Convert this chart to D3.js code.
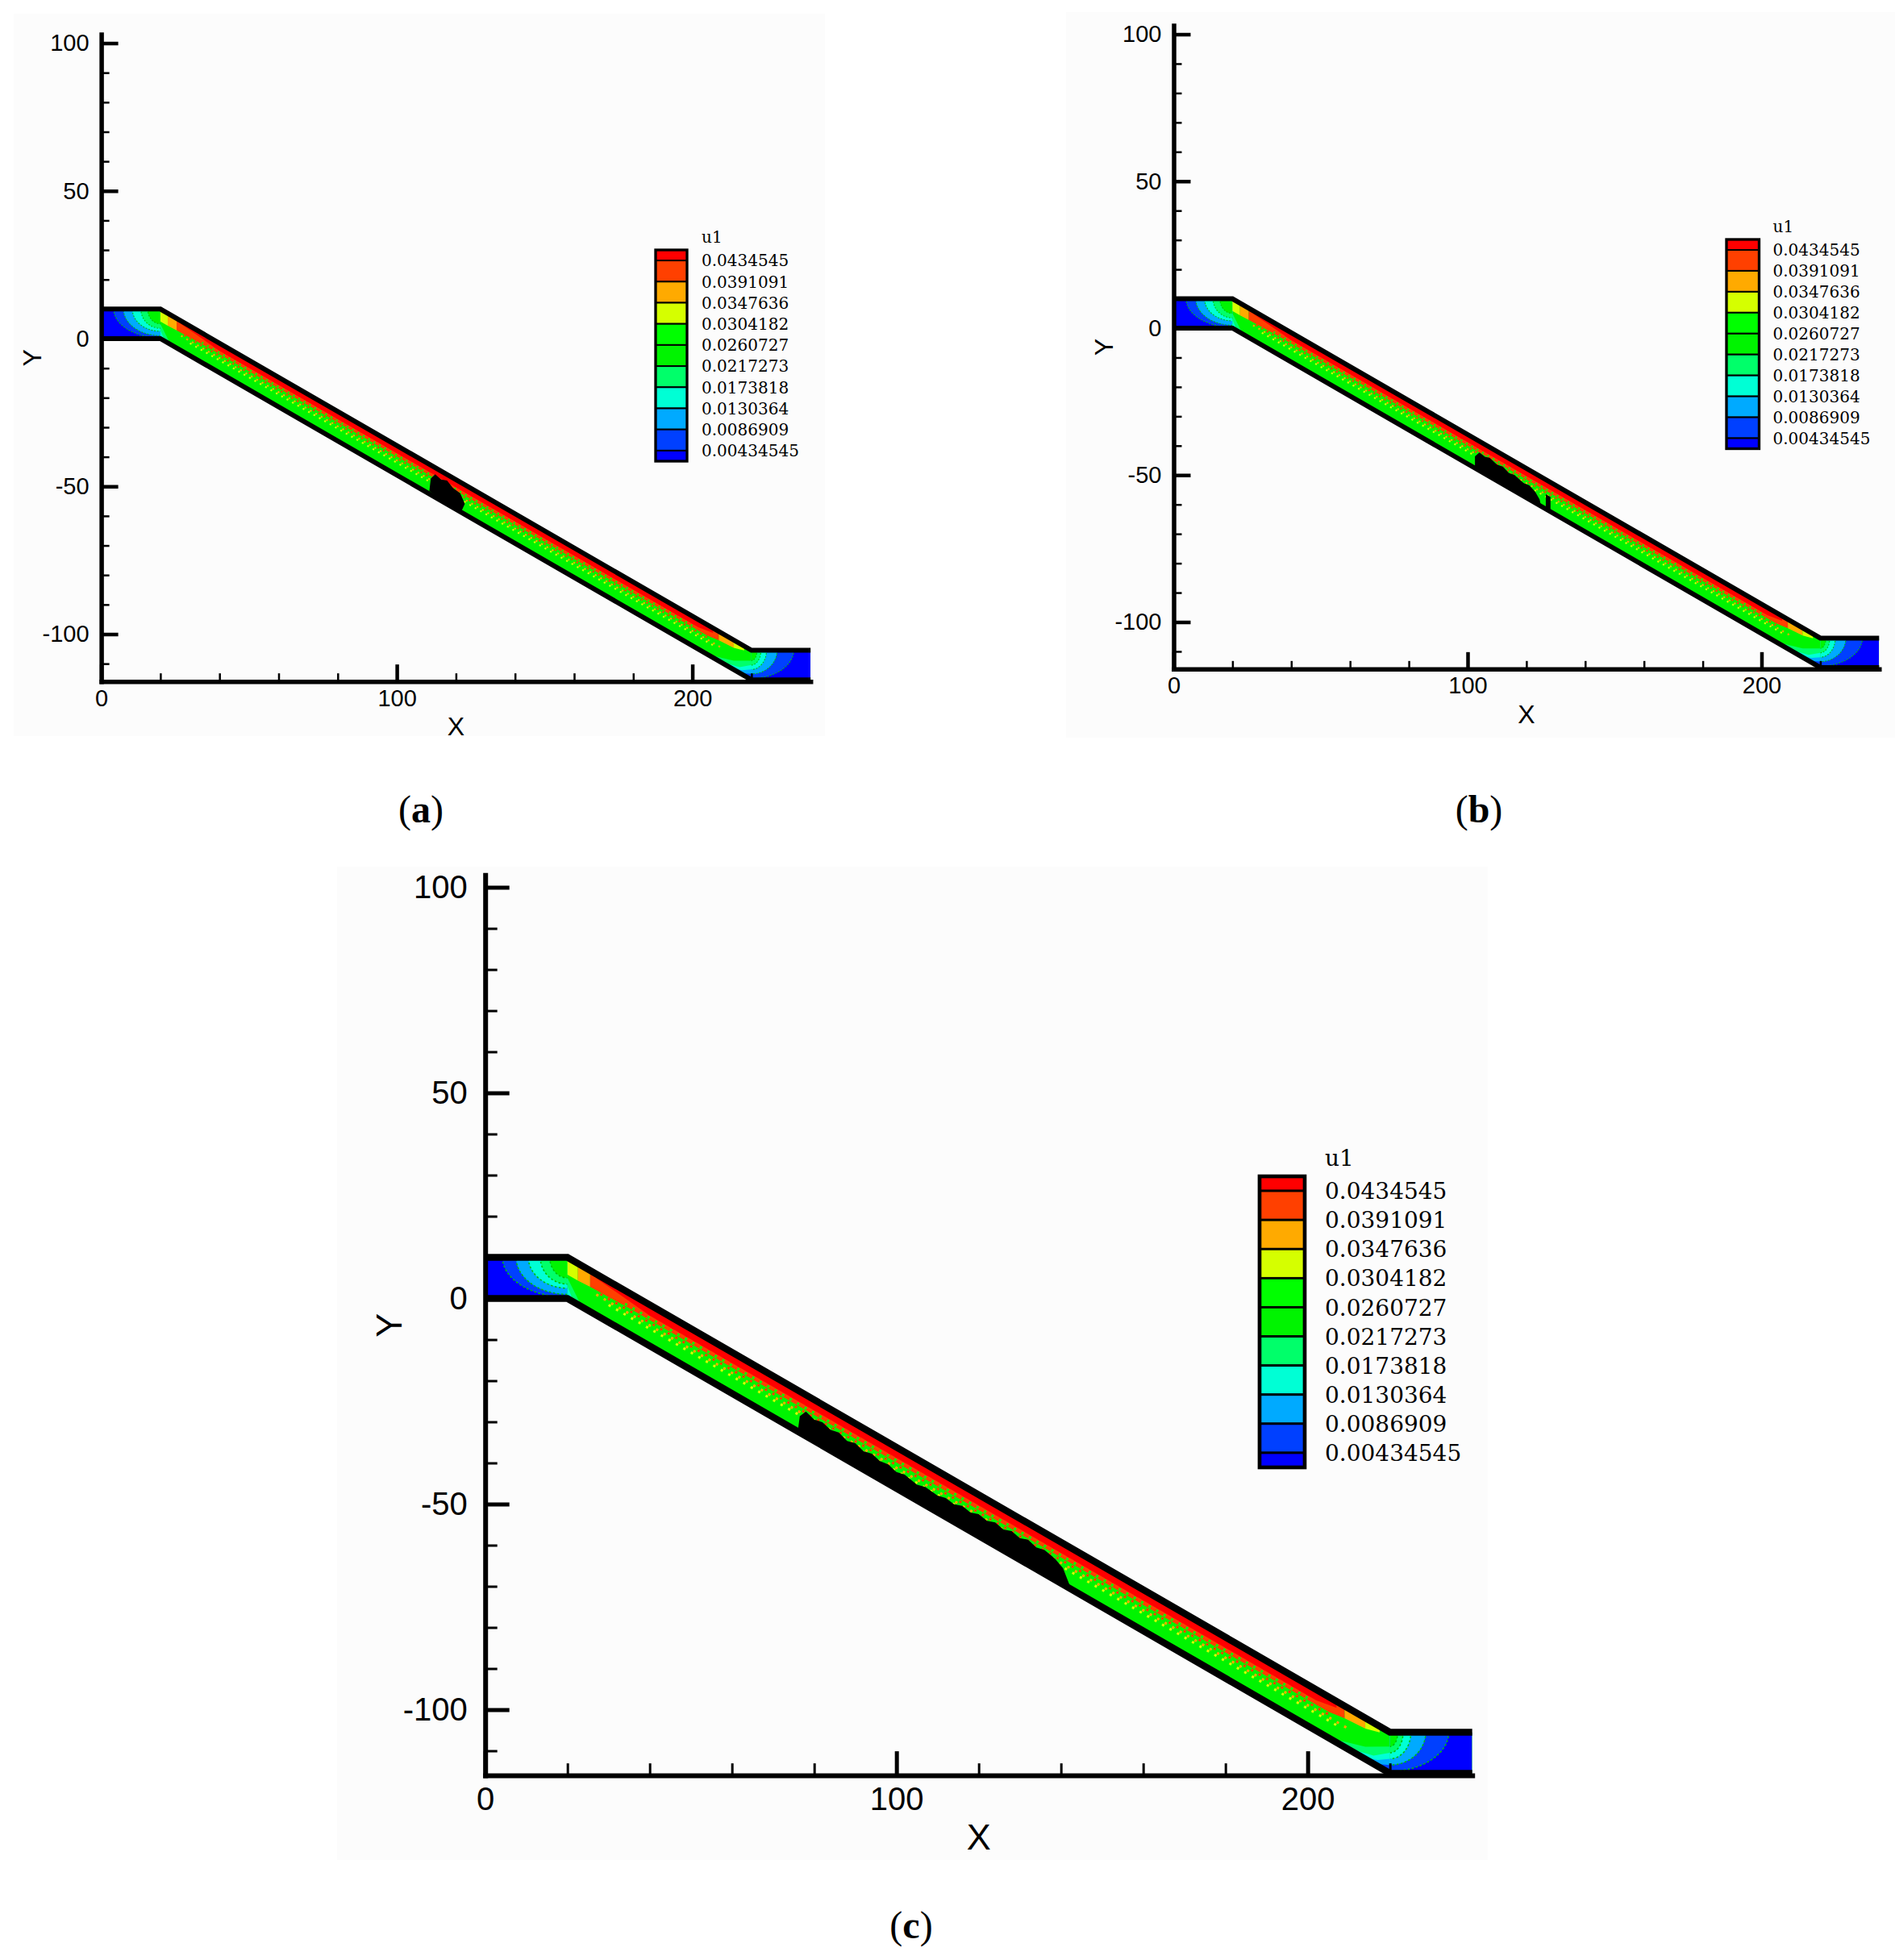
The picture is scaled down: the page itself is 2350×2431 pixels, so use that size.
<!DOCTYPE html>
<meta charset="utf-8">
<title>u1 contours in the inclined channel</title>
<style>
    body { margin: 0; background: #fff; }
    .tick text { font-family: "Liberation Sans", Arial, sans-serif; fill: #000; }
    .legend text { font-family: "DejaVu Serif", serif; fill: #000; }
</style>

<script src="https://d3js.org/d3.v7.min.js"></script>

<svg id="fig" width="2350" height="2431"></svg>

<script>
    // contour levels (legend) and band colours, top to bottom
    const levels = ["0.0434545", "0.0391091", "0.0347636", "0.0304182", "0.0260727",
        "0.0217273", "0.0173818", "0.0130364", "0.0086909", "0.00434545"];
    const bandColors = ["#ff0000", "#ff4000", "#ffaa00", "#d5ff00", "#00ff00", "#00f400",
        "#00ff6a", "#00ffd5", "#00aaff", "#0040ff", "#0000ff"];

    // axes
    const xDomain = [0, 240];
    const yDomain = [-116, 103];
    const xMajor = [0, 100, 200];
    const xMinor = [20, 40, 60, 80, 120, 140, 160, 180, 220];
    const yMajor = [-100, -50, 0, 50, 100];
    const yMinor = [-110, -90, -80, -70, -60, -40, -30, -20, -10, 10, 20, 30, 40, 60, 70, 80, 90];

    // channel walls (X, Y)
    const upperWall = [[0, 10], [20, 10], [220, -105.47], [240, -105.47]];
    const lowerWall = [[0, 0], [20, 0], [220, -115.47], [240, -115.47]];

    // contour arcs in the inlet and outlet, outer to inner (data units)
    const inletRx = [15.8, 12.5, 9.5, 6.6, 4.3];
    const inletRy = [9.7, 9.0, 7.5, 6.5, 5.0];
    const outletRx = [14.3, 8.7, 5.1, 3.2, 1.9];
    const outletRy = [9.5, 8.0, 6.5, 5.0, 3.5];
    const arcBands = [9, 8, 7, 6, 5];

    // bands in the channel: X along the channel, f = fraction of height above the lower wall
    const channelBands = [
        {band: 6, lo: [[20, 0], [23.5, 0]], hi: [[20, 0.5], [23.5, 0]]},
        {band: 7, lo: [[20, 0], [21.5, 0]], hi: [[20, 0.3], [21.5, 0]]},
        {band: 3, lo: [[20, 0.58], [22.5, 0.58]], hi: [[20, 1], [22.5, 1]]},
        {band: 2, lo: [[22.5, 0.58], [25.5, 0.6]], hi: [[22.5, 1], [25.5, 1]]},
        {band: 1, lo: [[25.5, 0.6], [35, 0.63], [205, 0.63], [209, 0.7]], hi: [[25.5, 1], [209, 1]]},
        {band: 0, lo: [[27, 0.9], [40, 0.74], [202, 0.74], [207, 0.84]], hi: [[27, 1], [207, 1]]},
        {band: 2, lo: [[209, 0.7], [214, 0.74]], hi: [[209, 1], [214, 1]]},
        {band: 3, lo: [[214, 0.74], [217.5, 0.85]], hi: [[214, 1], [217.5, 1]]},
        {band: 6, lo: [[205, 0], [220, 0]], hi: [[205, 0], [214, 0.3], [220, 0.65]]},
        {band: 7, lo: [[209, 0], [220, 0]], hi: [[209, 0], [216, 0.2], [220, 0.5]]},
        {band: 8, lo: [[213, 0], [220, 0]], hi: [[213, 0], [217, 0.15], [220, 0.35]]},
        {band: 9, lo: [[216, 0], [220, 0]], hi: [[216, 0], [220, 0.2]]}
    ];

    // dotted staircase cells between green and red
    const dotLines = [
        {band: 1, f: 0.57, from: 28, to: 206},
        {band: 2, f: 0.5, from: 27, to: 210},
        {band: 3, f: 0.42, from: 30, to: 208},
        {band: 4, f: 0.68, from: 34, to: 200}
    ];

    // black patches (X, f)
    const blobA = [[111, 0.1], [111.5, 0.55], [113, 0.78], [115, 0.72], [117, 0.8], [119, 0.66],
        [121.5, 0.62], [123, 0.35], [122, 0.08], [117, 0.04], [114, 0.05]];
    const blobB = [[102.5, 0], [102.5, 0.4], [104, 0.62], [106, 0.58], [107.5, 0.64], [110, 0.55],
        [112, 0.6], [114, 0.5], [116, 0.54], [119, 0.45], [121, 0.48], [123, 0.38], [124.5, 0.2], [125, 0]];
    const notchB = [[126.6, 0], [126.6, 0.5], [128.2, 0.5], [128.2, 0]];
    const blobC = [[76, 0], [76.5, 0.4], [78, 0.6], [80, 0.52], [82, 0.57], [84, 0.5], [86, 0.55],
        [88, 0.46], [90, 0.52], [92, 0.44], [94, 0.5], [96, 0.43], [98, 0.47], [100, 0.4], [102, 0.45],
        [105, 0.38], [107, 0.44], [110, 0.4], [112, 0.46], [114, 0.42], [116, 0.5], [118, 0.45],
        [120, 0.53], [122, 0.48], [124, 0.56], [126, 0.5], [128, 0.58], [130, 0.52], [132, 0.6],
        [134, 0.53], [136, 0.58], [138.5, 0.52], [140.5, 0.4], [142.5, 0]];

    const panels = [
        {id: "a", x0: 125.6, y0: 420, k: 3.665, bg: [17, 17, 1006, 896],
            axisW: 5.5, majLen: 21, majW: 4.5, minLen: 10, minW: 2.5,
            tickFont: 29, padX: 10, padY: 15, titleFont: 32, xTitleDy: 67, yTitleDx: 86, wallW: 6,
            legend: {x: 813, y: 310, w: 39, h: 262, font: 20, gap: 18},
            caption: {x: 522, y: 1020, label: "a"}, blobs: [blobA]},
        {id: "b", x0: 1455.5, y0: 407, k: 3.645, bg: [1322, 15, 1028, 900],
            axisW: 5.5, majLen: 21, majW: 4.5, minLen: 10, minW: 2.5,
            tickFont: 29, padX: 10, padY: 15, titleFont: 32, xTitleDy: 67, yTitleDx: 86, wallW: 6,
            legend: {x: 2141, y: 297, w: 40.5, h: 259.5, font: 20, gap: 17},
            caption: {x: 1834, y: 1020, label: "b"}, blobs: [blobB, notchB]},
        {id: "c", x0: 601.7, y0: 1610.5, k: 5.1, bg: [418, 1075, 1427, 1232],
            axisW: 6, majLen: 30, majW: 5, minLen: 15, minW: 3,
            tickFont: 40, padX: 15, padY: 22, titleFont: 45, xTitleDy: 92, yTitleDx: 119, wallW: 8.5,
            legend: {x: 1562, y: 1459, w: 56, h: 361, font: 28, gap: 25},
            caption: {x: 1130, y: 2404, label: "c"}, blobs: [blobC]}
    ];

    const svg = d3.select("#fig");

    const yLow = d3.scaleLinear().domain(lowerWall.map(d => d[0])).range(lowerWall.map(d => d[1]));
    const chanH = upperWall[0][1] - lowerWall[0][1];
    const bends = lowerWall.slice(1, -1).map(d => d[0]);

    // add the wall corners so strips follow the bend
    function densify(pts) {
        const out = [];
        pts.forEach(function (p, i) {
            if (i > 0) {
                const q = pts[i - 1];
                const cross = bends.filter(b => (q[0] - b) * (p[0] - b) < 0)
                    .sort((a, b) => Math.abs(a - q[0]) - Math.abs(b - q[0]));
                cross.forEach(function (b) {
                    const t = (b - q[0]) / (p[0] - q[0]);
                    out.push([b, q[1] + t * (p[1] - q[1])]);
                });
            }
            out.push(p);
        });
        return out;
    }
    const toXY = pts => densify(pts).map(([X, f]) => [X, yLow(X) + chanH * f]);

    panels.forEach(drawPanel);

    function drawPanel(p) {
        const x = d3.scaleLinear().domain(xDomain).range([p.x0 + xDomain[0] * p.k, p.x0 + xDomain[1] * p.k]);
        const y = d3.scaleLinear().domain(yDomain).range([p.y0 - yDomain[0] * p.k, p.y0 - yDomain[1] * p.k]);
        const line = d3.line().x(d => x(d[0])).y(d => y(d[1]));

        const g = svg.append("g");
        g.append("rect")
            .attr("x", p.bg[0]).attr("y", p.bg[1])
            .attr("width", p.bg[2]).attr("height", p.bg[3])
            .attr("fill", "#fcfcfc");

        const defs = g.append("defs");
        const chan = upperWall.concat(lowerWall.slice().reverse());
        defs.append("clipPath").attr("id", "chan-" + p.id)
            .append("path").attr("d", line(chan) + "Z");

        const inlet = [lowerWall[0], upperWall[0], upperWall[1], lowerWall[1]];
        const outlet = [lowerWall[2], upperWall[2], upperWall[3], lowerWall[3]];
        defs.append("clipPath").attr("id", "in-" + p.id)
            .append("path").attr("d", line(inlet) + "Z");
        defs.append("clipPath").attr("id", "out-" + p.id)
            .append("path").attr("d", line(outlet) + "Z");

        const field = g.append("g").attr("clip-path", "url(#chan-" + p.id + ")");

        // base colour of the channel
        field.append("path").attr("d", line(chan) + "Z").attr("fill", bandColors[5]);

        // inlet and outlet arcs
        [{clip: "in-", c: upperWall[1], rx: inletRx, ry: inletRy, shape: inlet},
            {clip: "out-", c: upperWall[2], rx: outletRx, ry: outletRy, shape: outlet}]
            .forEach(function (end) {
                const eg = field.append("g").attr("clip-path", "url(#" + end.clip + p.id + ")");
                eg.append("path").attr("d", line(end.shape) + "Z").attr("fill", bandColors[10]);
                eg.selectAll("ellipse")
                    .data(end.rx.map((r, i) => ({rx: r, ry: end.ry[i], band: arcBands[i]})))
                    .join("ellipse")
                    .attr("cx", x(end.c[0]))
                    .attr("cy", y(end.c[1]))
                    .attr("rx", d => d.rx * p.k)
                    .attr("ry", d => d.ry * p.k)
                    .attr("fill", d => bandColors[d.band])
                    .attr("stroke", "#00c000")
                    .attr("stroke-width", 0.3 * p.k)
                    .attr("stroke-dasharray", (0.5 * p.k) + " " + (0.5 * p.k));
            });

        // strips along the channel
        field.selectAll("path.band")
            .data(channelBands)
            .join("path")
            .attr("class", "band")
            .attr("d", d => line(toXY(d.lo.concat(d.hi.slice().reverse()))) + "Z")
            .attr("fill", d => bandColors[d.band]);

        field.selectAll("path.dots")
            .data(dotLines)
            .join("path")
            .attr("class", "dots")
            .attr("d", d => line(toXY([[d.from, d.f], [d.to, d.f]])))
            .attr("fill", "none")
            .attr("stroke", d => bandColors[d.band])
            .attr("stroke-width", 0.6 * p.k)
            .attr("stroke-dasharray", (0.6 * p.k) + " " + (1.5 * p.k));

        field.selectAll("path.blob")
            .data(p.blobs)
            .join("path")
            .attr("class", "blob")
            .attr("d", d => line(toXY(d)) + "Z")
            .attr("fill", "#000");

        // walls
        g.selectAll("path.wall")
            .data([upperWall, lowerWall])
            .join("path")
            .attr("class", "wall")
            .attr("d", line)
            .attr("fill", "none")
            .attr("stroke", "#000")
            .attr("stroke-width", p.wallW)
            .attr("stroke-linejoin", "miter");

        // axes, ticks pointing inward
        const fmt = d => String(d);
        const xAxis = g.append("g")
            .attr("transform", "translate(0," + y(yDomain[0]) + ")")
            .call(d3.axisBottom(x).tickValues(xMajor).tickSizeInner(-p.majLen)
                .tickSizeOuter(0).tickPadding(p.padX).tickFormat(fmt));
        g.append("g")
            .attr("transform", "translate(0," + y(yDomain[0]) + ")")
            .call(d3.axisBottom(x).tickValues(xMinor).tickSizeInner(-p.minLen)
                .tickSizeOuter(0).tickFormat(""))
            .call(a => a.select(".domain").remove())
            .selectAll("line").attr("stroke-width", p.minW);

        const yAxis = g.append("g")
            .attr("transform", "translate(" + x(xDomain[0]) + ",0)")
            .call(d3.axisLeft(y).tickValues(yMajor).tickSizeInner(-p.majLen)
                .tickSizeOuter(0).tickPadding(p.padY).tickFormat(fmt));
        g.append("g")
            .attr("transform", "translate(" + x(xDomain[0]) + ",0)")
            .call(d3.axisLeft(y).tickValues(yMinor).tickSizeInner(-p.minLen)
                .tickSizeOuter(0).tickFormat(""))
            .call(a => a.select(".domain").remove())
            .selectAll("line").attr("stroke-width", p.minW);

        [xAxis, yAxis].forEach(function (a) {
            a.select(".domain").attr("stroke-width", p.axisW).attr("stroke-linecap", "square");
            a.selectAll(".tick line").attr("stroke-width", p.majW);
            a.selectAll(".tick text").style("font-size", p.tickFont + "px");
        });

        g.append("text")
            .attr("x", x((xDomain[0] + xDomain[1]) / 2))
            .attr("y", y(yDomain[0]) + p.xTitleDy)
            .attr("text-anchor", "middle")
            .style("font-family", "Liberation Sans, Arial, sans-serif")
            .style("font-size", p.titleFont + "px")
            .text("X");
        const ty = y((yDomain[0] + yDomain[1]) / 2), tx = x(xDomain[0]) - p.yTitleDx;
        g.append("text")
            .attr("x", tx).attr("y", ty)
            .attr("text-anchor", "middle")
            .attr("dominant-baseline", "central")
            .attr("transform", "rotate(-90," + tx + "," + ty + ")")
            .style("font-family", "Liberation Sans, Arial, sans-serif")
            .style("font-size", p.titleFont + "px")
            .text("Y");

        // legend
        const L = p.legend;
        const step = L.h / levels.length;
        const lg = g.append("g").attr("class", "legend");
        const bandY = bandColors.map((c, i) => ({
            c: c,
            y0: i === 0 ? L.y : L.y + step / 2 + (i - 1) * step,
            y1: i === bandColors.length - 1 ? L.y + L.h : L.y + step / 2 + i * step
        }));
        lg.selectAll("rect.sw")
            .data(bandY)
            .join("rect")
            .attr("class", "sw")
            .attr("x", L.x).attr("width", L.w)
            .attr("y", d => d.y0).attr("height", d => d.y1 - d.y0)
            .attr("fill", d => d.c)
            .attr("stroke", "#000")
            .attr("stroke-width", L.font / 10);
        lg.append("rect")
            .attr("x", L.x).attr("y", L.y).attr("width", L.w).attr("height", L.h)
            .attr("fill", "none").attr("stroke", "#000").attr("stroke-width", L.font / 6);
        lg.selectAll("text.lvl")
            .data(levels)
            .join("text")
            .attr("class", "lvl")
            .attr("x", L.x + L.w + L.gap)
            .attr("y", (d, i) => L.y + step / 2 + i * step)
            .attr("dy", "0.36em")
            .style("font-size", L.font + "px")
            .text(d => d);
        lg.append("text")
            .attr("x", L.x + L.w + L.gap)
            .attr("y", L.y - 0.45 * L.font)
            .style("font-size", L.font + "px")
            .text("u1");

        // panel caption
        const cap = g.append("text")
            .attr("x", p.caption.x).attr("y", p.caption.y)
            .attr("text-anchor", "middle")
            .style("font-family", "Liberation Serif, Times New Roman, serif")
            .style("font-size", "48px");
        cap.append("tspan").text("(");
        cap.append("tspan").style("font-weight", "bold").text(p.caption.label);
        cap.append("tspan").text(")");
    }
</script>
